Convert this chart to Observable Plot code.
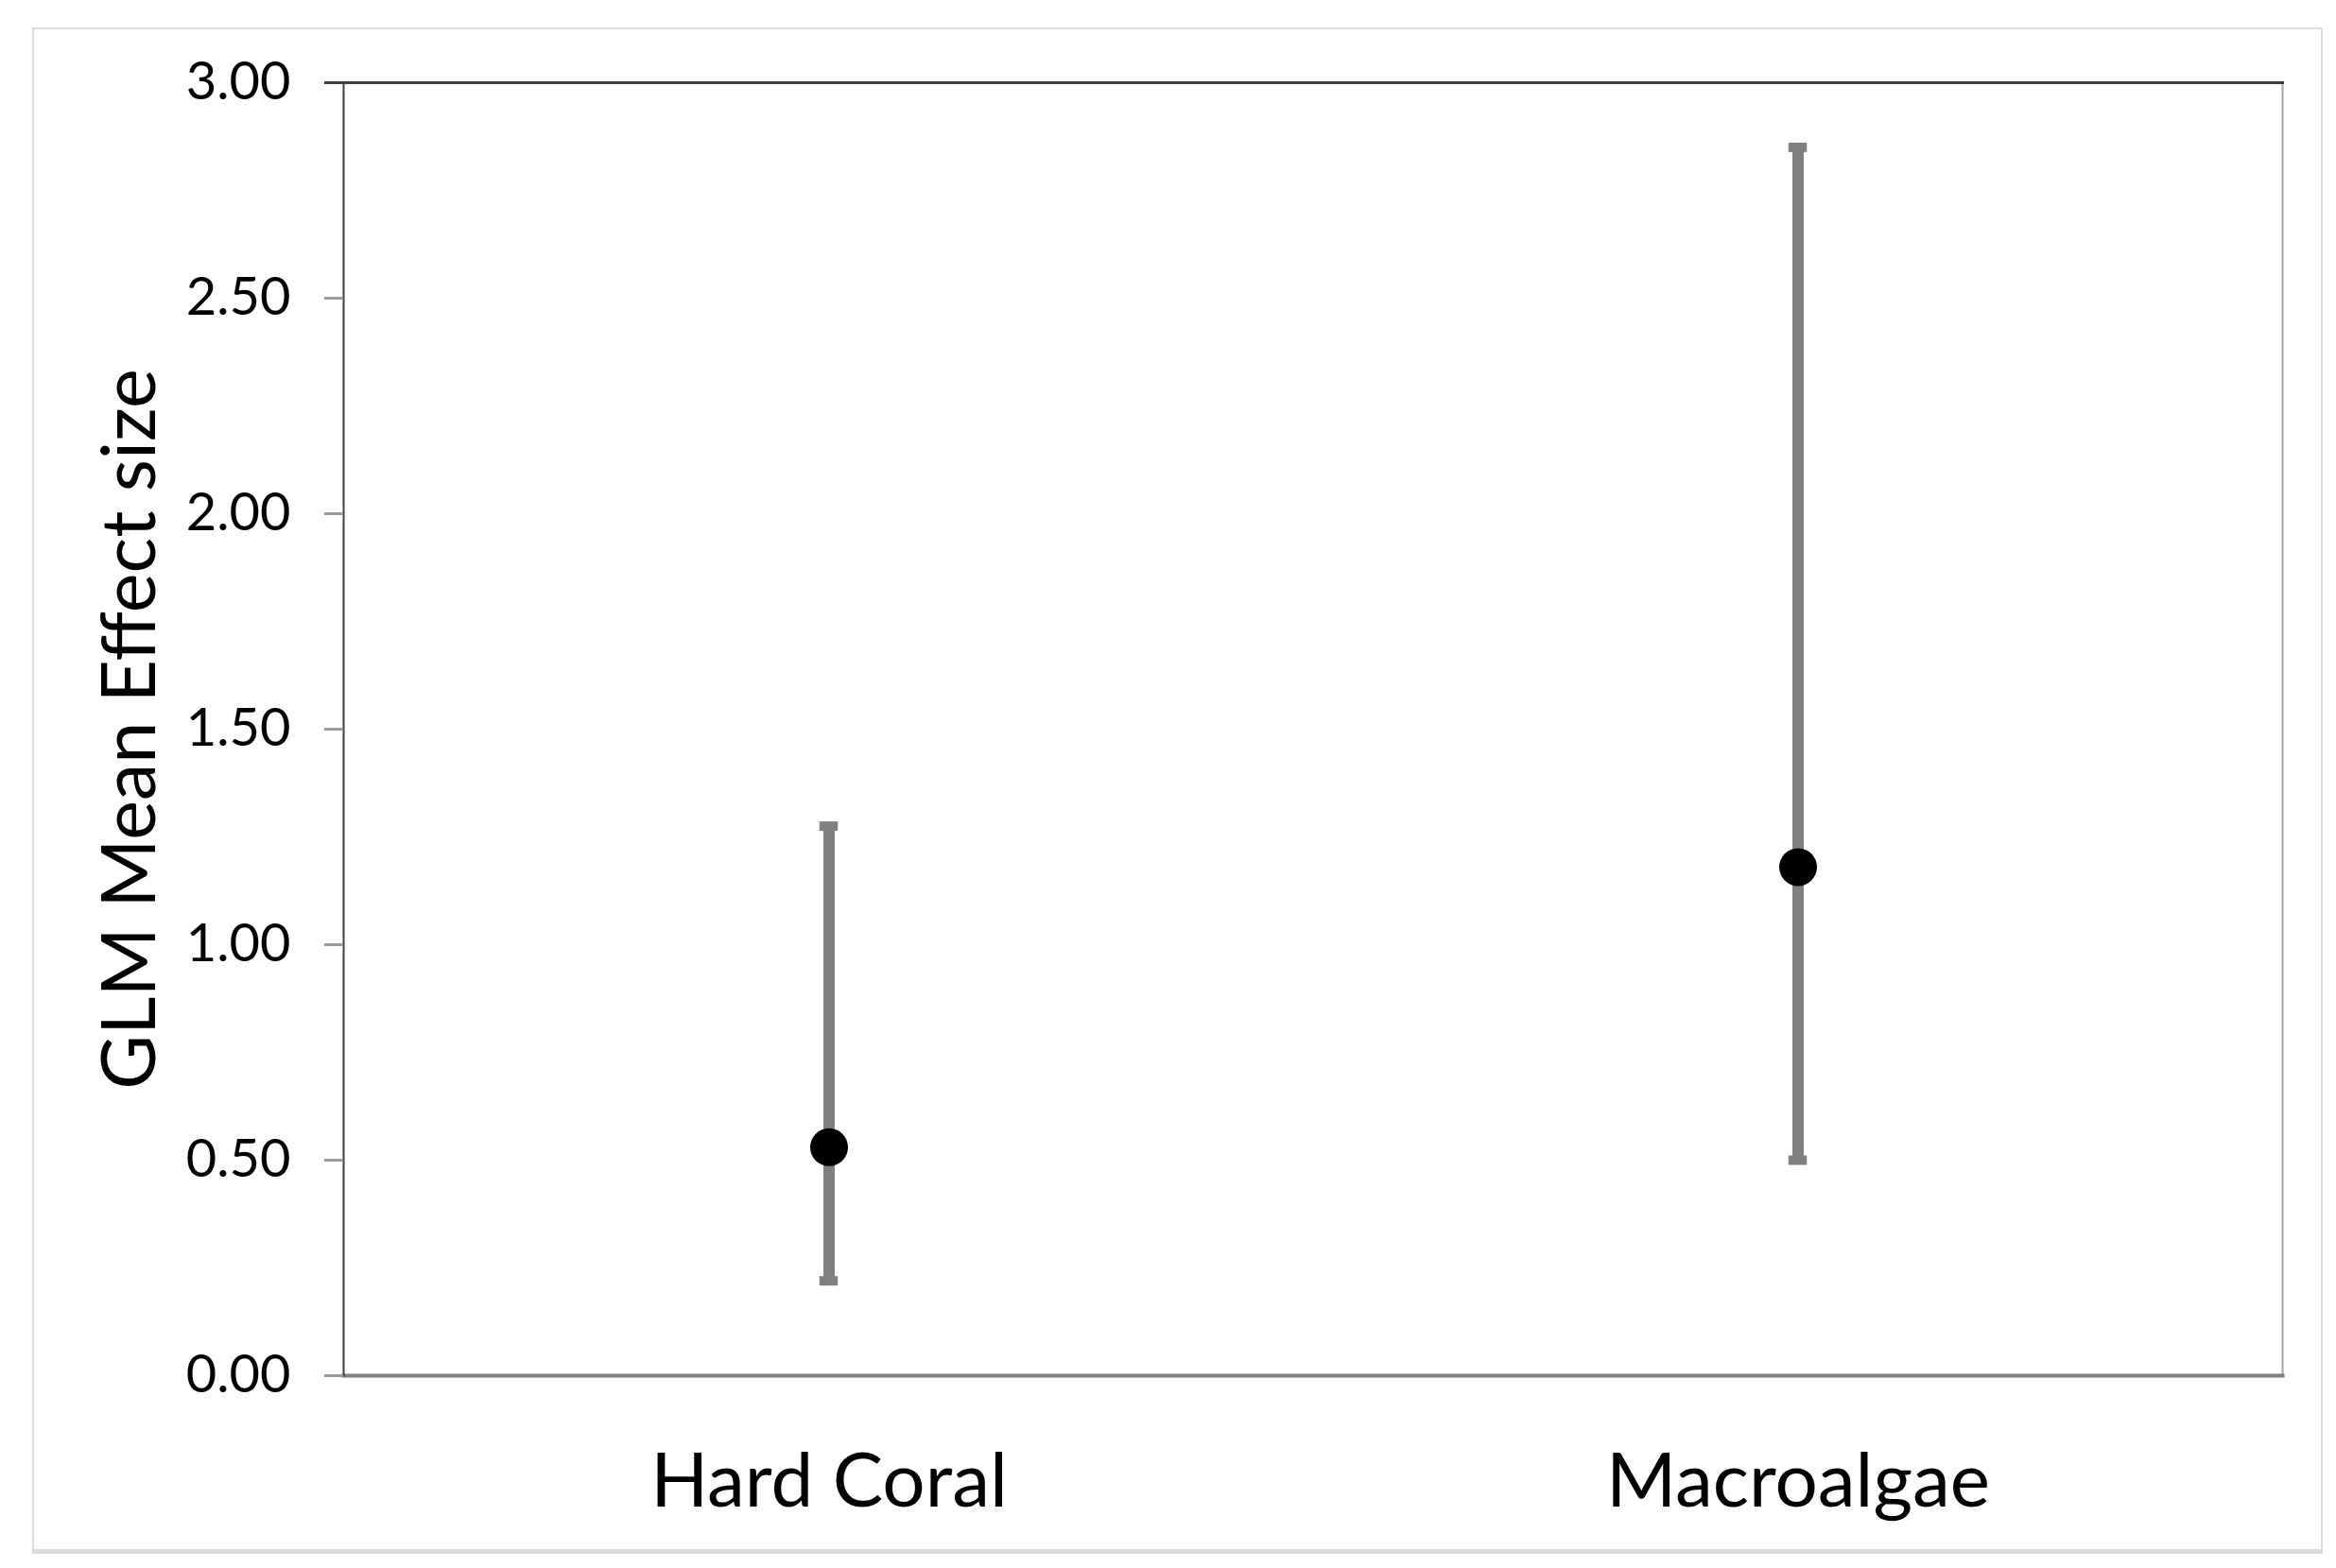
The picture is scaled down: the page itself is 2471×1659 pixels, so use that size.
<!DOCTYPE html>
<html>
<head>
<meta charset="utf-8">
<script src="https://cdn.jsdelivr.net/npm/d3@7"></script>
<script src="https://cdn.jsdelivr.net/npm/@observablehq/plot@0.6"></script>
<style>
  html, body { margin: 0; padding: 0; background: #fff; }
  #wrap { position: relative; width: 2471px; height: 1659px; }
  #border { position: absolute; left: 34px; top: 29px; width: 2419px; height: 1608px;
            border: 2px solid #dcdcdc; border-bottom-width: 5px; box-sizing: content-box; }
  #chart { position: absolute; left: 0; top: 0; }
</style>
</head>
<body>
<div id="wrap"><div id="border"></div><div id="chart"></div></div>
<script>
const categories = ["Hard Coral", "Macroalgae"];
const means = [0.53, 1.18];
const lower = [0.22, 0.50];
const upper = [1.275, 2.85];
const yTicks = [0, 0.5, 1, 1.5, 2, 2.5, 3];
const yLabel = "GLM Mean Effect size";

const data = categories.map((c, i) => ({cat: c, mean: means[i], lo: lower[i], hi: upper[i]}));

const W = 2471, H = 1659;
const mL = 363, mR = 57, mT = 87, mB = 204;
const bw = (W - mL - mR) / categories.length;
const capW = 20;

const chart = Plot.plot({
  width: W,
  height: H,
  marginLeft: mL,
  marginRight: mR,
  marginTop: mT,
  marginBottom: mB,
  style: {fontFamily: "Lato", color: "#000", background: "transparent"},
  x: {domain: categories, padding: 0, label: null},
  y: {domain: [0, 3], label: null},
  marks: [
    Plot.frame({anchor: "right", stroke: "#a6a6a6", strokeWidth: 2}),
    Plot.frame({anchor: "bottom", stroke: "#7f7f7f", strokeWidth: 4}),
    Plot.frame({anchor: "top", stroke: "#404040", strokeWidth: 3}),
    Plot.frame({anchor: "left", stroke: "#404040", strokeWidth: 2}),
    Plot.axisY({ticks: yTicks.slice(0, -1), tickFormat: d3.format(".2f"), tickSize: 20, tickPadding: 36,
                stroke: "#9a9a9a", strokeWidth: 3, fontSize: 56, label: null}),
    Plot.axisY({ticks: yTicks.slice(-1), tickFormat: d3.format(".2f"), tickSize: 20, tickPadding: 36,
                stroke: "#404040", strokeWidth: 3, fontSize: 56, label: null}),
    Plot.axisX({tickSize: 0, tickPadding: 82, fontSize: 80, label: null}),
    Plot.text([yLabel], {frameAnchor: "left", dx: -225, rotate: -90, textAnchor: "middle",
                         lineAnchor: "middle", fontSize: 79, fill: "#000"}),
    Plot.ruleX(data, {x: "cat", y1: "lo", y2: "hi", stroke: "#808080", strokeWidth: 12}),
    Plot.tickY(data, {x: "cat", y: "hi", stroke: "#808080", strokeWidth: 10,
                      insetLeft: (bw - capW) / 2, insetRight: (bw - capW) / 2}),
    Plot.tickY(data, {x: "cat", y: "lo", stroke: "#808080", strokeWidth: 10,
                      insetLeft: (bw - capW) / 2, insetRight: (bw - capW) / 2}),
    Plot.dot(data, {x: "cat", y: "mean", r: 20, fill: "#000", stroke: "none"})
  ]
});
document.getElementById("chart").appendChild(chart);
</script>
</body>
</html>
